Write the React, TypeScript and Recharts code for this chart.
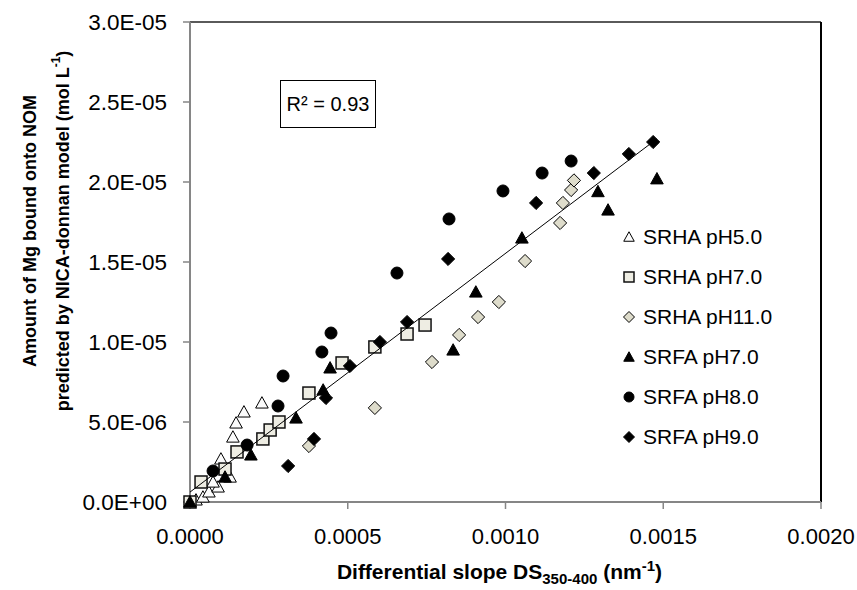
import React from 'react'
import { ScatterChart, Scatter, XAxis, YAxis, ReferenceLine, Legend } from 'recharts'

const FONT = '"Liberation Sans", Arial, sans-serif'

// [x = differential slope, y = Mg bound (mol/L)]
const srhaPh5 = [
  [0.000019, 1.3e-7], [0.000041, 3.1e-7], [0.00006, 6.3e-7], [0.000089, 9.4e-7],
  [0.000073, 1.25e-6], [0.000127, 1.56e-6], [0.000098, 2.69e-6], [0.000136, 4.06e-6],
  [0.000146, 4.94e-6], [0.000171, 5.63e-6], [0.000228, 6.19e-6],
]
const srhaPh7 = [
  [0, 0], [0.000035, 1.25e-6], [0.000111, 2.06e-6], [0.000149, 3.13e-6], [0.000231, 3.94e-6],
  [0.000254, 4.5e-6], [0.000282, 5.0e-6], [0.000377, 6.81e-6], [0.000482, 8.69e-6],
  [0.000586, 9.69e-6], [0.000688, 1.05e-5], [0.000745, 1.106e-5],
]
const srhaPh11 = [
  [0.000377, 3.5e-6], [0.000586, 5.88e-6], [0.000767, 8.75e-6], [0.000853, 1.044e-5],
  [0.000913, 1.156e-5], [0.000979, 1.25e-5], [0.001062, 1.506e-5], [0.001173, 1.744e-5],
  [0.001182, 1.869e-5], [0.001208, 1.95e-5], [0.001217, 2.01e-5],
]
const srfaPh7 = [
  [0, 0], [0.000111, 1.56e-6], [0.000193, 2.94e-6], [0.000336, 5.25e-6], [0.000422, 7.0e-6],
  [0.000444, 8.38e-6], [0.000834, 9.5e-6], [0.000906, 1.3125e-5], [0.001052, 1.65e-5],
  [0.001293, 1.94e-5], [0.001325, 1.825e-5], [0.00148, 2.02e-5],
]
const srfaPh8 = [
  [0.000073, 1.94e-6], [0.000181, 3.56e-6], [0.000279, 6.0e-6], [0.000295, 7.875e-6],
  [0.000418, 9.375e-6], [0.000447, 1.056e-5], [0.000656, 1.431e-5], [0.000821, 1.769e-5],
  [0.000992, 1.944e-5], [0.001116, 2.056e-5], [0.001208, 2.131e-5],
]
const srfaPh9 = [
  [0.000311, 2.25e-6], [0.000393, 3.94e-6], [0.000431, 6.5e-6], [0.000507, 8.5e-6],
  [0.000602, 1.0e-5], [0.000688, 1.125e-5], [0.000818, 1.519e-5], [0.001097, 1.869e-5],
  [0.00128, 2.056e-5], [0.001391, 2.175e-5], [0.001468, 2.25e-5],
]
// linear fit, R² = 0.93
const fitLine = [[0, 6.2e-7], [0.00148, 2.27e-5]]

const xTicks = [0, 0.0005, 0.001, 0.0015, 0.002]
const xTickLabels = ['0.0000', '0.0005', '0.0010', '0.0015', '0.0020']
const yTicks = [0, 5e-6, 1e-5, 1.5e-5, 2e-5, 2.5e-5, 3e-5]
const yTickLabels = ['0.0E+00', '5.0E-06', '1.0E-05', '1.5E-05', '2.0E-05', '2.5E-05', '3.0E-05']

const toPoints = (arr: number[][]) => arr.map(([x, y]) => ({ x, y }))

type MarkerKind = 'triangle' | 'square' | 'diamond' | 'circle'

const series = [
  { name: 'SRHA pH5.0', data: srhaPh5, kind: 'triangle' as MarkerKind, fill: '#fbfbfb' },
  { name: 'SRHA pH7.0', data: srhaPh7, kind: 'square' as MarkerKind, fill: '#eeede3' },
  { name: 'SRHA pH11.0', data: srhaPh11, kind: 'diamond' as MarkerKind, fill: '#dedccb' },
  { name: 'SRFA pH7.0', data: srfaPh7, kind: 'triangle' as MarkerKind, fill: '#000' },
  { name: 'SRFA pH8.0', data: srfaPh8, kind: 'circle' as MarkerKind, fill: '#000' },
  { name: 'SRFA pH9.0', data: srfaPh9, kind: 'diamond' as MarkerKind, fill: '#000' },
]

function marker(kind: MarkerKind, cx: number, cy: number, fill: string, s: number) {
  const h = s / 2
  const stroke = '#000'
  if (kind === 'triangle') {
    return <polygon points={`${cx},${cy - h * 1.05} ${cx + h * 1.05},${cy + h * 0.85} ${cx - h * 1.05},${cy + h * 0.85}`} fill={fill} stroke={stroke} strokeWidth={1} />
  }
  if (kind === 'square') {
    return <rect x={cx - h} y={cy - h} width={s} height={s} fill={fill} stroke="#111" strokeWidth={1.5} />
  }
  if (kind === 'diamond') {
    return <polygon points={`${cx},${cy - h * 1.1} ${cx + h * 1.1},${cy} ${cx},${cy + h * 1.1} ${cx - h * 1.1},${cy}`} fill={fill} stroke={stroke} strokeWidth={1} />
  }
  return <circle cx={cx} cy={cy} r={h} fill={fill} stroke={stroke} strokeWidth={1} />
}

const XTitle = () => (
  <text x={662} y={579} textAnchor="end" fontFamily={FONT} fontWeight="bold" fontSize={21} fill="#000">
    Differential slope DS
    <tspan fontSize={15} dy={5}>350-400</tspan>
    <tspan dy={-5}> (nm</tspan>
    <tspan fontSize={15} dy={-8}>-1</tspan>
    <tspan dy={8}>)</tspan>
  </text>
)

const YTitle = () => (
  <g fontFamily={FONT} fontWeight="bold" fontSize={18} fill="#000">
    <text transform="rotate(-90)" x={-231} y={30} textAnchor="middle" dominantBaseline="central">
      Amount of Mg bound onto NOM
    </text>
    <text transform="rotate(-90)" x={-231} y={63} textAnchor="middle" dominantBaseline="central">
      predicted by NICA-donnan model (mol L
      <tspan fontSize={12} dy={-7}>-1</tspan>
      <tspan dy={7}>)</tspan>
    </text>
  </g>
)

const renderLegend = () => (
  <div style={{ fontFamily: FONT }}>
    {series.map((s) => (
      <div key={s.name} style={{ display: 'flex', alignItems: 'center', height: 40 }}>
        <svg width={18} height={18}>{marker(s.kind, 9, 9, s.fill, 10)}</svg>
        <span style={{ fontSize: 21, marginLeft: 5, color: '#000' }}>{s.name}</span>
      </div>
    ))}
  </div>
)

export default function App() {
  return (
    <div style={{ position: 'absolute', left: 0, top: 0, width: 857, height: 590, background: '#fff' }}>
      <ScatterChart width={857} height={590} margin={{ top: 22, right: 36, bottom: 0, left: 0 }}>
        <XAxis
          type="number"
          dataKey="x"
          domain={[0, 0.002]}
          ticks={xTicks}
          tickFormatter={(v: number) => xTickLabels[xTicks.indexOf(v)] ?? ''}
          height={88}
          tickSize={7}
          tickMargin={19}
          axisLine={{ stroke: '#868686', strokeWidth: 2 }}
          tickLine={{ stroke: '#868686', strokeWidth: 1.5 }}
          tick={{ fill: '#000', fontSize: 22, fontFamily: FONT }}
          label={<XTitle />}
        />
        <YAxis
          type="number"
          dataKey="y"
          domain={[0, 3e-5]}
          ticks={yTicks}
          tickFormatter={(v: number) => yTickLabels[yTicks.indexOf(v)] ?? ''}
          width={190}
          tickSize={7}
          tickMargin={16}
          axisLine={{ stroke: '#868686', strokeWidth: 2 }}
          tickLine={{ stroke: '#868686', strokeWidth: 1.5 }}
          tick={{ fill: '#000', fontSize: 22.5, fontFamily: FONT }}
          label={<YTitle />}
        />
        <ReferenceLine y={3e-5} stroke="#5a5a5a" strokeWidth={2} />
        <ReferenceLine x={0.002} stroke="#000" strokeWidth={2} />
        {series.map((s) => (
          <Scatter
            key={s.name}
            name={s.name}
            data={toPoints(s.data)}
            isAnimationActive={false}
            shape={(p: any) => marker(s.kind, p.cx, p.cy, s.fill, 12)}
          />
        ))}
        <Scatter
          name="fit"
          data={toPoints(fitLine)}
          line={{ stroke: '#000', strokeWidth: 1 }}
          shape={() => <g />}
          legendType="none"
          isAnimationActive={false}
        />
        <Legend
          layout="vertical"
          align="center"
          verticalAlign="middle"
          wrapperStyle={{ left: 620, top: 217, width: 200 }}
          content={renderLegend}
        />
      </ScatterChart>
      <div
        style={{
          position: 'absolute', left: 280, top: 80, width: 96, height: 48, boxSizing: 'border-box',
          border: '1.5px solid #000', display: 'flex', alignItems: 'center', justifyContent: 'center',
          fontFamily: FONT, fontSize: 20, background: '#fff',
        }}
      >
        R² = 0.93
      </div>
    </div>
  )
}
